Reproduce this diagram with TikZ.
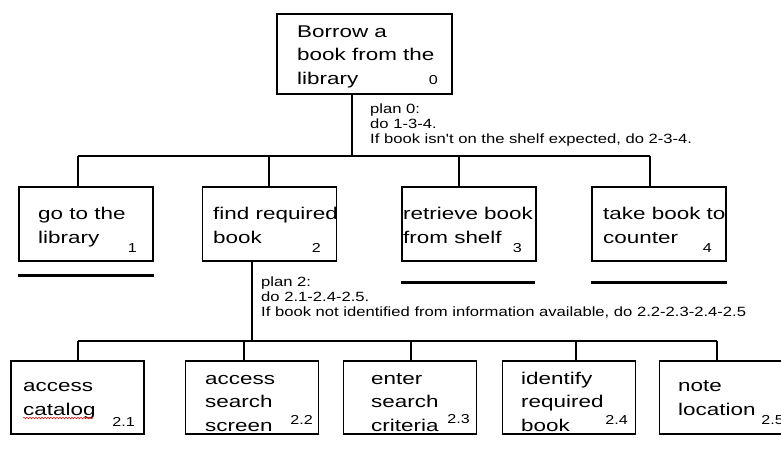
\documentclass[tikz,border=0pt]{standalone}
\usepackage{fontspec}
\setmainfont{Liberation Sans}
\newfontfamily\boxfont{Liberation Sans}[FakeStretch=1.32]
\newfontfamily\planfont{Liberation Sans}[FakeStretch=1.24]
\usetikzlibrary{decorations.pathmorphing}
\tikzset{
  task/.style={draw, line width=1.3pt, inner sep=0pt},
  lvlone/.style={task, minimum width=134pt, minimum height=74pt},
  lvltwo/.style={task, minimum width=133pt, minimum height=73pt},
  % text nodes are placed by the baseline of their last line
  txt/.style={anchor=base west, inner sep=0pt, align=left,
    font=\boxfont\fontsize{17}{23.5}\selectfont},
  num/.style={anchor=base east, inner sep=0pt,
    font=\planfont\fontsize{13}{14}\selectfont},
  plan/.style={anchor=base west, inner sep=0pt, align=left,
    font=\planfont\fontsize{13.4}{15}\selectfont},
  bar/.style={line width=1.3pt},
  done/.style={line width=2.4pt},
}
\begin{document}
\begin{tikzpicture}[x=1pt,y=-1pt]
      \useasboundingbox (0,0) rectangle (781,451);
      \draw
        (364.5,54) node[task, minimum width=175pt, minimum height=80pt] (b0){}
        (86,224) node[lvlone] (b1){}
        (269.5,224) node[lvlone] (b2){}
        (469,224) node[lvlone] (b3){}
        (659,224) node[lvlone] (b4){}
        (77.5,397.5) node[lvltwo] (b21){}
        (252,397.5) node[lvltwo] (b22){}
        (410,397.5) node[lvltwo] (b23){}
        (569,397.5) node[lvltwo] (b24){}
        (726,397.5) node[lvltwo] (b25){};
      \draw
        (297,84) node[txt] (t0){Borrow a\\book from the\\library}
        (38,243) node[txt] (t1){go to the\\library}
        (213,243) node[txt] (t2){find required\\book}
        (403,243) node[txt] (t3){retrieve book\\from shelf}
        (603,243) node[txt] (t4){take book to\\counter}
        (23,415) node[txt] (t21){access\\catalog}
        (205,431) node[txt] (t22){access\\search\\screen}
        (371,431) node[txt] (t23){enter\\search\\criteria}
        (521,431) node[txt] (t24){identify\\required\\book}
        (678,415) node[txt] (t25){note\\location};
      \draw
        (438,84) node[num] (n0){0}
        (137,252) node[num] (n1){1}
        (321,252) node[num] (n2){2}
        (522,252) node[num] (n3){3}
        (712,252) node[num] (n4){4}
        (135,426) node[num] (n21){2.1}
        (313,424) node[num] (n22){2.2}
        (470,423) node[num] (n23){2.3}
        (628,424) node[num] (n24){2.4}
        (784,424) node[num] (n25){2.5};
      \draw
        (370,143) node[plan] (p0){plan 0:\\do 1-3-4.\\If book isn't on the shelf expected, do 2-3-4.}
        (261,316) node[plan] (p2){plan 2:\\do 2.1-2.4-2.5.\\If book not identified from information available, do 2.2-2.3-2.4-2.5};
      \coordinate (j0) at (352,156);
      \coordinate (j1) at (78,156);
      \coordinate (j2) at (269,156);
      \coordinate (j3) at (459,156);
      \coordinate (j4) at (650,156);
      \coordinate (k2) at (252,341);
      \coordinate (k21) at (78,341);
      \coordinate (k22) at (244,341);
      \coordinate (k23) at (411,341);
      \coordinate (k24) at (576,341);
      \coordinate (k25) at (717,341);
      \begin{scope}[bar]
        \draw (j0 |- b0.south) to (j0);
        \draw (j1) to (j4);
        \draw (j1) to (j1 |- b1.north);
        \draw (j2) to (j2 |- b2.north);
        \draw (j3) to (j3 |- b3.north);
        \draw (j4) to (j4 |- b4.north);
        \draw (k2 |- b2.south) to (k2);
        \draw (k21) to (k25);
        \draw (k21) to (k21 |- b21.north);
        \draw (k22) to (k22 |- b22.north);
        \draw (k23) to (k23 |- b23.north);
        \draw (k24) to (k24 |- b24.north);
        \draw (k25) to (k25 |- b25.north);
      \end{scope}
      \begin{scope}[done]
        \draw ([yshift=-14pt]b1.south west) to ([yshift=-14pt]b1.south east);
        \draw ([yshift=-21pt]b3.south west) to ([yshift=-21pt,xshift=-2pt]b3.south east);
        \draw ([yshift=-21pt]b4.south west) to ([yshift=-21pt]b4.south east);
      \end{scope}
      % spell-check mark under catalog
      \draw[red, line width=0.5pt, decorate,
        decoration={snake, amplitude=0.8pt, segment length=3pt}] (23,418) -- (93,418);
    \end{tikzpicture}
\end{document}
